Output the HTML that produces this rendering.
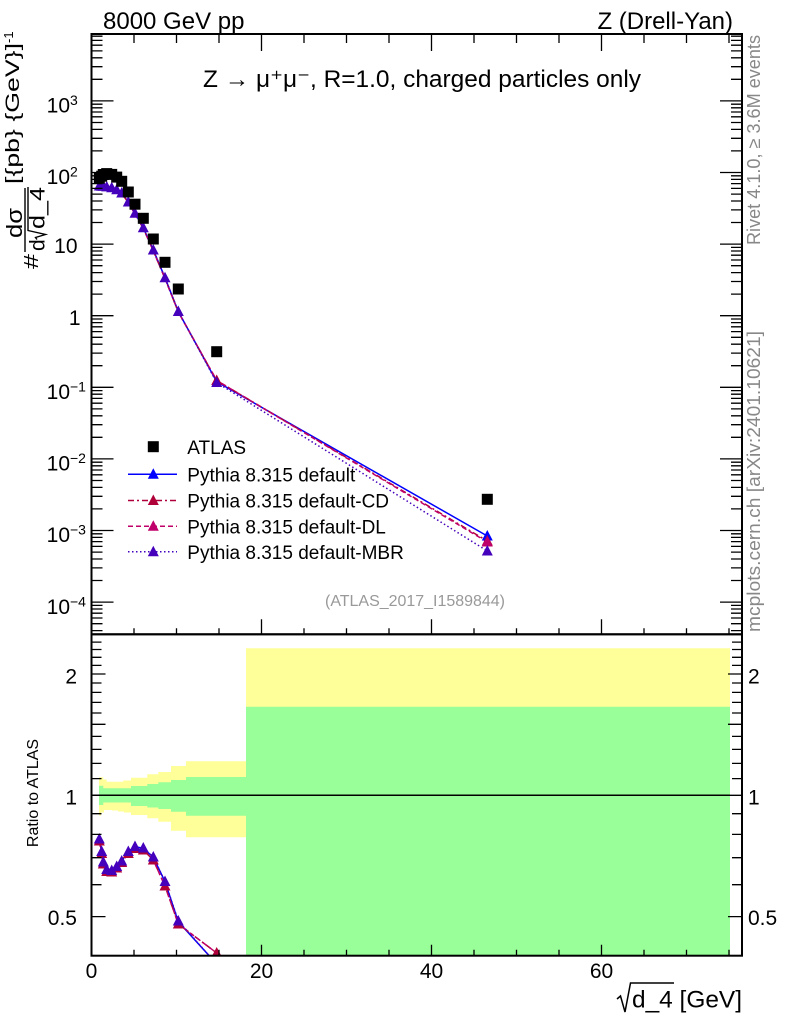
<!DOCTYPE html>
<html><head><meta charset="utf-8"><style>
html,body{margin:0;padding:0;background:#fff;}
svg{display:block;font-family:"Liberation Sans",Arial,sans-serif;}
</style></head><body>
<svg width="786" height="1024" viewBox="0 0 786 1024" xmlns="http://www.w3.org/2000/svg">
<defs>
<clipPath id="cm"><rect x="91.5" y="34" width="650.5" height="600.3"/></clipPath>
<clipPath id="cr"><rect x="91.5" y="634.3" width="650.5" height="321.4"/></clipPath>
</defs>

<!-- top texts -->
<text x="103" y="29" font-size="24">8000 GeV pp</text>
<text x="733" y="29" font-size="24" text-anchor="end">Z (Drell-Yan)</text>
<text x="203" y="87" font-size="24" textLength="438" lengthAdjust="spacingAndGlyphs">Z → μ⁺μ⁻, R=1.0, charged particles only</text>

<!-- ratio bands -->
<g clip-path="url(#cr)">
<path fill="#ffff99" d="M99,777.3 H103.3 V779.5 H106.7 V781.7 H123.3 V780.5 H131 V777.7 H147.3 V774.3 H158.3 V772 H171 V766 H186 V761.3 H246 V648.3 H730 V955.7 H246 V837.3 H186 V830.7 H171 V821.7 H158.3 V818.3 H147.3 V815 H131 V812.5 H124 V811.5 H118 V810.5 H112 V810 H104 V812.5 H101 V815.5 H99 Z"/>
<path fill="#99ff99" d="M99,785.7 H103.3 V788.3 H131 V786 H147.3 V784 H158.3 V782.3 H171 V780 H186 V777 H246 V706.7 H730 V955.7 H246 V815.7 H186 V811.7 H171 V809 H158.3 V807.5 H147.3 V806 H131 V802.5 H103.3 V805 H99 Z"/>
<line x1="91.5" y1="795.3" x2="730" y2="795.3" stroke="#000" stroke-width="1.5"/>
</g>

<!-- main panel data -->
<g clip-path="url(#cm)">
<polyline fill="none" stroke="#0000ff" stroke-width="1.5" points="99.3,186 101.7,186.2 103.3,186.4 106.7,186.9 111.7,187.8 116.7,189.8 121.7,193 128.3,202 135,213.3 143.3,227.7 153.3,250 165,277.7 178.3,311.5 216.7,381.7 487.3,536"/>
<polyline fill="none" stroke="#b0003a" stroke-width="1.5" stroke-dasharray="6,3,2,3" points="99.3,186.5 101.7,186.7 103.3,186.9 106.7,187.4 111.7,188.3 116.7,190.3 121.7,193.5 128.3,202.5 135,214 143.3,228.4 153.3,250.8 165,278.5 178.3,312 216.7,380.5 487.3,541"/>
<polyline fill="none" stroke="#c0006a" stroke-width="1.5" stroke-dasharray="5,3" points="99.3,186.5 101.7,186.7 103.3,186.9 106.7,187.4 111.7,188.3 116.7,190.3 121.7,193.5 128.3,202.5 135,214 143.3,228.4 153.3,250.8 165,278.5 178.3,312 216.7,380.5 487.3,542"/>
<polyline fill="none" stroke="#4400bb" stroke-width="1.5" stroke-dasharray="1.5,2.5" points="99.3,186 101.7,186.2 103.3,186.4 106.7,186.9 111.7,187.8 116.7,189.8 121.7,193 128.3,202 135,213.3 143.3,227.7 153.3,250 165,277.7 178.3,311.5 216.7,382.5 487.3,551"/>
<g fill="#0000ff">
<path d="M487.3,530 l-5.5,10.5 h11 z"/>
</g>
<g fill="#b0003a">
<path d="M216.7,374.5 l-5.5,10.5 h11 z M487.3,535 l-5.5,10.5 h11 z"/>
</g>
<g fill="#c0006a">
<path d="M487.3,536 l-5.5,10.5 h11 z"/>
</g>
<g fill="#4400bb">
<path d="M99.3,180 l-5.5,10.5 h11 z M101.7,180.2 l-5.5,10.5 h11 z M103.3,180.4 l-5.5,10.5 h11 z M106.7,180.9 l-5.5,10.5 h11 z M111.7,181.8 l-5.5,10.5 h11 z M116.7,183.8 l-5.5,10.5 h11 z M121.7,187 l-5.5,10.5 h11 z M128.3,196 l-5.5,10.5 h11 z M135,207.3 l-5.5,10.5 h11 z M143.3,221.7 l-5.5,10.5 h11 z M153.3,244 l-5.5,10.5 h11 z M165,271.7 l-5.5,10.5 h11 z M178.3,305.5 l-5.5,10.5 h11 z M216.7,376.5 l-5.5,10.5 h11 z M487.3,545 l-5.5,10.5 h11 z"/>
</g>
<g fill="#000">
<rect x="93.8" y="172.7" width="11" height="11"/>
<rect x="96.2" y="170.7" width="11" height="11"/>
<rect x="97.8" y="169" width="11" height="11"/>
<rect x="101.2" y="168.1" width="11" height="11"/>
<rect x="106.2" y="168.9" width="11" height="11"/>
<rect x="111.2" y="171.6" width="11" height="11"/>
<rect x="116.2" y="175.8" width="11" height="11"/>
<rect x="122.8" y="186.5" width="11" height="11"/>
<rect x="129.5" y="198.7" width="11" height="11"/>
<rect x="137.8" y="212.8" width="11" height="11"/>
<rect x="147.8" y="233.5" width="11" height="11"/>
<rect x="159.5" y="256.8" width="11" height="11"/>
<rect x="172.8" y="283.5" width="11" height="11"/>
<rect x="211.2" y="346.2" width="11" height="11"/>
<rect x="481.8" y="493.8" width="11" height="11"/>
</g>
</g>

<!-- ratio data -->
<g clip-path="url(#cr)">
<polyline fill="none" stroke="#0000ff" stroke-width="1.5" points="99.3,839.3 101.7,851.7 103.3,862.3 106.7,870 111.7,870.7 116.7,866.7 121.7,861 128.3,851.7 135,846.7 143.3,848.3 153.3,857.3 165,881.7 178.3,921.7 216.7,964"/>
<polyline fill="none" stroke="#b0003a" stroke-width="1.5" stroke-dasharray="6,3,2,3" points="99.3,841 101.7,853.5 103.3,864 106.7,871.5 111.7,872 116.7,868 121.7,862.5 128.3,853.5 135,848.5 143.3,850 153.3,860 165,886 178.3,924 216.7,953"/>
<polyline fill="none" stroke="#c0006a" stroke-width="1.5" stroke-dasharray="5,3" points="99.3,841 101.7,853.5 103.3,864 106.7,871.5 111.7,872 116.7,868 121.7,862.5 128.3,853.5 135,848.5 143.3,850 153.3,860 165,886 178.3,924 216.7,953"/>
<polyline fill="none" stroke="#4400bb" stroke-width="1.5" stroke-dasharray="1.5,2.5" points="99.3,839 101.7,851.5 103.3,862 106.7,869.5 111.7,870.5 116.7,866.5 121.7,861 128.3,851.5 135,846.5 143.3,848 153.3,857 165,881.5 178.3,921 216.7,964"/>
<g fill="#b0003a">
<path d="M99.3,835 l-5.5,10.5 h11 z M101.7,847.5 l-5.5,10.5 h11 z M103.3,858 l-5.5,10.5 h11 z M106.7,865.5 l-5.5,10.5 h11 z M111.7,866 l-5.5,10.5 h11 z M116.7,862 l-5.5,10.5 h11 z M121.7,856.5 l-5.5,10.5 h11 z M128.3,847.5 l-5.5,10.5 h11 z M135,842.5 l-5.5,10.5 h11 z M143.3,844 l-5.5,10.5 h11 z M153.3,854 l-5.5,10.5 h11 z M165,880 l-5.5,10.5 h11 z M178.3,918 l-5.5,10.5 h11 z M216.7,947 l-5.5,10.5 h11 z"/>
</g>
<g fill="#4400bb">
<path d="M99.3,833 l-5.5,10.5 h11 z M101.7,845.5 l-5.5,10.5 h11 z M103.3,856 l-5.5,10.5 h11 z M106.7,863.5 l-5.5,10.5 h11 z M111.7,864.5 l-5.5,10.5 h11 z M116.7,860.5 l-5.5,10.5 h11 z M121.7,855 l-5.5,10.5 h11 z M128.3,845.5 l-5.5,10.5 h11 z M135,840.5 l-5.5,10.5 h11 z M143.3,842 l-5.5,10.5 h11 z M153.3,851 l-5.5,10.5 h11 z M165,875.5 l-5.5,10.5 h11 z M178.3,915 l-5.5,10.5 h11 z"/>
</g>
</g>

<!-- frames -->
<g fill="none" stroke="#000">
<rect x="91.5" y="34" width="650.5" height="600.3" stroke-width="2"/>
<rect x="91.5" y="634.3" width="650.5" height="321.4" stroke-width="2"/>
</g>

<!-- main y ticks -->
<g stroke="#000" stroke-width="1.3">
<path d="M91.5,100.9 h22 M91.5,172.5 h22 M91.5,244.1 h22 M91.5,315.7 h22 M91.5,387.3 h22 M91.5,458.9 h22 M91.5,530.5 h22 M91.5,602.1 h22
M742,100.9 h-22 M742,172.5 h-22 M742,244.1 h-22 M742,315.7 h-22 M742,387.3 h-22 M742,458.9 h-22 M742,530.5 h-22 M742,602.1 h-22"/>
<path d="M91.5,630.6 h11 M91.5,623.7 h11 M91.5,618 h11 M91.5,613.2 h11 M91.5,609 h11 M91.5,605.4 h11
M91.5,580.5 h11 M91.5,567.9 h11 M91.5,559 h11 M91.5,552.1 h11 M91.5,546.4 h11 M91.5,541.6 h11 M91.5,537.4 h11 M91.5,533.8 h11
M91.5,508.9 h11 M91.5,496.3 h11 M91.5,487.4 h11 M91.5,480.5 h11 M91.5,474.8 h11 M91.5,470 h11 M91.5,465.8 h11 M91.5,462.2 h11
M91.5,437.3 h11 M91.5,424.7 h11 M91.5,415.8 h11 M91.5,408.9 h11 M91.5,403.2 h11 M91.5,398.4 h11 M91.5,394.2 h11 M91.5,390.6 h11
M91.5,365.7 h11 M91.5,353.1 h11 M91.5,344.2 h11 M91.5,337.3 h11 M91.5,331.6 h11 M91.5,326.8 h11 M91.5,322.6 h11 M91.5,319 h11
M91.5,294.1 h11 M91.5,281.5 h11 M91.5,272.6 h11 M91.5,265.7 h11 M91.5,260 h11 M91.5,255.2 h11 M91.5,251 h11 M91.5,247.4 h11
M91.5,222.5 h11 M91.5,209.9 h11 M91.5,201 h11 M91.5,194.1 h11 M91.5,188.4 h11 M91.5,183.6 h11 M91.5,179.4 h11 M91.5,175.8 h11
M91.5,150.9 h11 M91.5,138.3 h11 M91.5,129.4 h11 M91.5,122.5 h11 M91.5,116.8 h11 M91.5,112 h11 M91.5,107.8 h11 M91.5,104.2 h11
M91.5,79.3 h11 M91.5,66.7 h11 M91.5,57.8 h11 M91.5,50.9 h11 M91.5,45.2 h11 M91.5,40.4 h11 M91.5,36.2 h11"/>
<path d="M742,630.6 h-11 M742,623.7 h-11 M742,618 h-11 M742,613.2 h-11 M742,609 h-11 M742,605.4 h-11
M742,580.5 h-11 M742,567.9 h-11 M742,559 h-11 M742,552.1 h-11 M742,546.4 h-11 M742,541.6 h-11 M742,537.4 h-11 M742,533.8 h-11
M742,508.9 h-11 M742,496.3 h-11 M742,487.4 h-11 M742,480.5 h-11 M742,474.8 h-11 M742,470 h-11 M742,465.8 h-11 M742,462.2 h-11
M742,437.3 h-11 M742,424.7 h-11 M742,415.8 h-11 M742,408.9 h-11 M742,403.2 h-11 M742,398.4 h-11 M742,394.2 h-11 M742,390.6 h-11
M742,365.7 h-11 M742,353.1 h-11 M742,344.2 h-11 M742,337.3 h-11 M742,331.6 h-11 M742,326.8 h-11 M742,322.6 h-11 M742,319 h-11
M742,294.1 h-11 M742,281.5 h-11 M742,272.6 h-11 M742,265.7 h-11 M742,260 h-11 M742,255.2 h-11 M742,251 h-11 M742,247.4 h-11
M742,222.5 h-11 M742,209.9 h-11 M742,201 h-11 M742,194.1 h-11 M742,188.4 h-11 M742,183.6 h-11 M742,179.4 h-11 M742,175.8 h-11
M742,150.9 h-11 M742,138.3 h-11 M742,129.4 h-11 M742,122.5 h-11 M742,116.8 h-11 M742,112 h-11 M742,107.8 h-11 M742,104.2 h-11
M742,79.3 h-11 M742,66.7 h-11 M742,57.8 h-11 M742,50.9 h-11 M742,45.2 h-11 M742,40.4 h-11 M742,36.2 h-11"/>
<!-- x ticks main top -->
<path d="M261.5,34 v17 M431.5,34 v17 M601.5,34 v17
M134,34 v9 M176.5,34 v9 M219,34 v9 M304,34 v9 M346.5,34 v9 M389,34 v9 M474,34 v9 M516.5,34 v9 M559,34 v9 M644,34 v9 M686.5,34 v9 M729,34 v9"/>
<!-- x ticks main bottom -->
<path d="M261.5,634.3 v-15 M431.5,634.3 v-15 M601.5,634.3 v-15
M134,634.3 v-6 M176.5,634.3 v-6 M219,634.3 v-6 M304,634.3 v-6 M346.5,634.3 v-6 M389,634.3 v-6 M474,634.3 v-6 M516.5,634.3 v-6 M559,634.3 v-6 M644,634.3 v-6 M686.5,634.3 v-6 M729,634.3 v-6"/>
<!-- x ticks ratio bottom -->
<path d="M261.5,955.7 v-11 M431.5,955.7 v-11 M601.5,955.7 v-11
M134,955.7 v-6 M176.5,955.7 v-6 M219,955.7 v-6 M304,955.7 v-6 M346.5,955.7 v-6 M389,955.7 v-6 M474,955.7 v-6 M516.5,955.7 v-6 M559,955.7 v-6 M644,955.7 v-6 M686.5,955.7 v-6 M729,955.7 v-6"/>
<!-- ratio y ticks -->
<path d="M91.5,916.6 h14 M91.5,795.3 h14 M91.5,724.3 h14 M91.5,674 h14
M742,916.6 h-14 M742,795.3 h-14 M742,724.3 h-14 M742,674 h-14
M91.5,884.7 h10 M91.5,857.7 h10 M91.5,834.4 h10 M91.5,813.7 h10 M91.5,778.6 h10 M91.5,763.4 h10 M91.5,749.4 h10 M91.5,736.4 h10 M91.5,713 h10 M91.5,702.4 h10 M91.5,692.4 h10 M91.5,683 h10 M91.5,665.4 h10 M91.5,657.3 h10 M91.5,649.5 h10 M91.5,642.1 h10
M742,884.7 h-10 M742,857.7 h-10 M742,834.4 h-10 M742,813.7 h-10 M742,778.6 h-10 M742,763.4 h-10 M742,749.4 h-10 M742,736.4 h-10 M742,713 h-10 M742,702.4 h-10 M742,692.4 h-10 M742,683 h-10 M742,665.4 h-10 M742,657.3 h-10 M742,649.5 h-10 M742,642.1 h-10"/>
</g>

<!-- main y labels -->
<g font-size="21">
<text x="70" y="112.4" text-anchor="end">10</text><text x="70" y="105" font-size="14">3</text>
<text x="70" y="184" text-anchor="end">10</text><text x="70" y="176.5" font-size="14">2</text>
<text x="77.5" y="253" text-anchor="end">10</text>
<text x="80.5" y="325" text-anchor="end">1</text>
<text x="70" y="399" text-anchor="end">10</text><text x="70" y="391.5" font-size="14">−1</text>
<text x="70" y="470.6" text-anchor="end">10</text><text x="70" y="463.1" font-size="14">−2</text>
<text x="70" y="542.2" text-anchor="end">10</text><text x="70" y="534.7" font-size="14">−3</text>
<text x="70" y="613.8" text-anchor="end">10</text><text x="70" y="606.3" font-size="14">−4</text>
</g>

<!-- ratio labels -->
<g font-size="21">
<text x="77" y="683.3" text-anchor="end">2</text>
<text x="77" y="804.5" text-anchor="end">1</text>
<text x="77" y="925" text-anchor="end">0.5</text>
<text x="748" y="683.3">2</text>
<text x="748" y="804.5">1</text>
<text x="748" y="925">0.5</text>
</g>

<!-- x labels -->
<g font-size="21" text-anchor="middle">
<text x="91.5" y="978">0</text>
<text x="261.5" y="978">20</text>
<text x="431.5" y="978">40</text>
<text x="601.5" y="978">60</text>
</g>

<!-- x title -->
<text x="632" y="1007.5" font-size="24" textLength="110" lengthAdjust="spacingAndGlyphs">d_4 [GeV]</text>
<path d="M617,999 L620.5,996 L625,1012 L630.5,983 L674,983" fill="none" stroke="#000" stroke-width="1.5"/>

<!-- y title (rotated) -->
<g transform="rotate(-90)">
<text x="-269" y="38" font-size="20" textLength="15" lengthAdjust="spacingAndGlyphs">#</text>
<text x="-238" y="22" font-size="22" textLength="30" lengthAdjust="spacingAndGlyphs">dσ</text>
<line x1="-252" y1="25" x2="-188" y2="25" stroke="#000" stroke-width="1.4"/>
<text x="-251" y="44.5" font-size="21">d</text>
<path d="M-239.5,37 L-237.5,35.5 L-234.5,45.5 L-230.5,28 L-187,28" fill="none" stroke="#000" stroke-width="1.4"/>
<text x="-229" y="44.5" font-size="21" textLength="42" lengthAdjust="spacingAndGlyphs">d_4</text>
<text x="-184" y="19" font-size="19" textLength="141" lengthAdjust="spacingAndGlyphs">[{pb} {GeV}]</text>
<text x="-43" y="13" font-size="13">-1</text>
<text x="-793" y="38" font-size="16" text-anchor="middle">Ratio to ATLAS</text>
<text x="-245" y="760" font-size="18" fill="#888" textLength="210" lengthAdjust="spacingAndGlyphs">Rivet 4.1.0, ≥ 3.6M events</text>
<text x="-632" y="760" font-size="18" fill="#888" textLength="301" lengthAdjust="spacingAndGlyphs">mcplots.cern.ch [arXiv:2401.10621]</text>
</g>

<!-- legend -->
<rect x="147.8" y="441.2" width="11" height="11" fill="#000"/>
<g font-size="19">
<text x="187.3" y="454">ATLAS</text>
<text x="187.3" y="481.5">Pythia 8.315 default</text>
<text x="187.3" y="507.5">Pythia 8.315 default-CD</text>
<text x="187.3" y="533.3">Pythia 8.315 default-DL</text>
<text x="187.3" y="559">Pythia 8.315 default-MBR</text>
</g>
<line x1="128" y1="474.3" x2="177" y2="474.3" stroke="#0000ff" stroke-width="1.5"/>
<path d="M153.3,468.3 l-5.5,10.5 h11 z" fill="#0000ff"/>
<line x1="128" y1="500.5" x2="177" y2="500.5" stroke="#b0003a" stroke-width="1.5" stroke-dasharray="6,3,2,3"/>
<path d="M153.3,494.5 l-5.5,10.5 h11 z" fill="#b0003a"/>
<line x1="128" y1="526.2" x2="177" y2="526.2" stroke="#c0006a" stroke-width="1.5" stroke-dasharray="5,3"/>
<path d="M153.3,520.2 l-5.5,10.5 h11 z" fill="#c0006a"/>
<line x1="128" y1="551.8" x2="177" y2="551.8" stroke="#4400bb" stroke-width="1.5" stroke-dasharray="1.5,2.5"/>
<path d="M153.3,545.8 l-5.5,10.5 h11 z" fill="#4400bb"/>

<text x="325" y="606" font-size="16" fill="#999" textLength="180" lengthAdjust="spacingAndGlyphs">(ATLAS_2017_I1589844)</text>
</svg>
</body></html>
